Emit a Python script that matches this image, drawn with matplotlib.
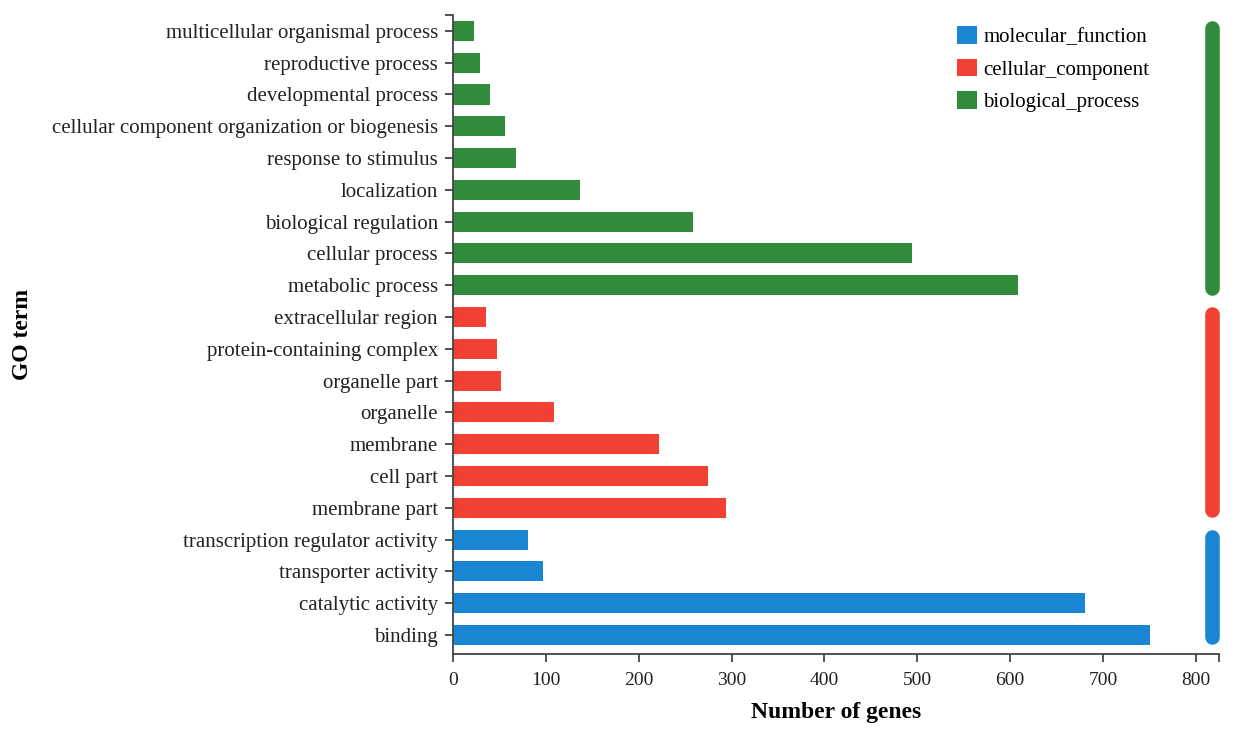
import matplotlib
matplotlib.use("Agg")
import matplotlib.pyplot as plt
from matplotlib.patches import Patch

terms = ["binding", "catalytic activity", "transporter activity", "transcription regulator activity",
         "membrane part", "cell part", "membrane", "organelle", "organelle part",
         "protein-containing complex", "extracellular region",
         "metabolic process", "cellular process", "biological regulation", "localization",
         "response to stimulus", "cellular component organization or biogenesis",
         "developmental process", "reproductive process", "multicellular organismal process"]
counts = [751, 681, 97, 80,
          294, 275, 222, 108, 51, 47, 35,
          608, 494, 258, 137, 68, 56, 40, 29, 22]
categories = ["molecular_function"] * 4 + ["cellular_component"] * 7 + ["biological_process"] * 9
cat_order = ["molecular_function", "cellular_component", "biological_process"]
cat_colors = {"molecular_function": "#1a85d2", "cellular_component": "#f04134",
              "biological_process": "#318b3c"}
x_ticks = [0, 100, 200, 300, 400, 500, 600, 700, 800]

plt.rcParams['font.family'] = ['Liberation Serif', 'DejaVu Serif']

fig = plt.figure(figsize=(12.48, 7.33), dpi=100)
ax = fig.add_axes([0.3632, 0.1078, 0.6138, 0.8717])

ypos = list(range(len(terms)))
ax.barh(ypos, counts, height=0.63, color=[cat_colors[c] for c in categories])

# group indicator capsules on the right
for cat in cat_order:
    idx = [i for i, c in enumerate(categories) if c == cat]
    ax.plot([818, 818], [min(idx) - 0.08, max(idx) + 0.08], color=cat_colors[cat],
            lw=10.5, solid_capstyle='round', clip_on=False)

ax.set_xlim(0, 825.4)
ax.set_ylim(-0.6, 19.5)
ax.set_yticks(ypos)
ax.set_yticklabels(terms, fontsize=15, color="#222222")
ax.set_xticks(x_ticks)
ax.set_xticklabels([str(v) for v in x_ticks], fontsize=14, color="#222222")
ax.set_xticks([825.4], minor=True)
ax.set_yticks([19.5], minor=True)
ax.tick_params(axis='both', which='both', direction='out', length=6, width=1.2, color="#333333")
ax.tick_params(axis='y', pad=5)
ax.tick_params(axis='x', pad=7)

for s in ['top', 'right']:
    ax.spines[s].set_visible(False)
for s in ['left', 'bottom']:
    ax.spines[s].set_color("#444444")
    ax.spines[s].set_linewidth(1.3)

ax.set_xlabel("Number of genes", fontsize=17, fontweight='bold', labelpad=9)
ax.set_ylabel("GO term", fontsize=17, fontweight='bold')
ax.yaxis.set_label_coords(-0.548, 0.5)

handles = [Patch(facecolor=cat_colors[c], edgecolor='none', label=c) for c in cat_order]
ax.legend(handles=handles, loc='upper left', bbox_to_anchor=(0.647, 0.996), frameon=False,
          fontsize=15, handlelength=0.95, handleheight=0.95, handletextpad=0.3,
          labelspacing=0.55, borderaxespad=0)

fig.savefig("out.png", dpi=100, facecolor='white')
